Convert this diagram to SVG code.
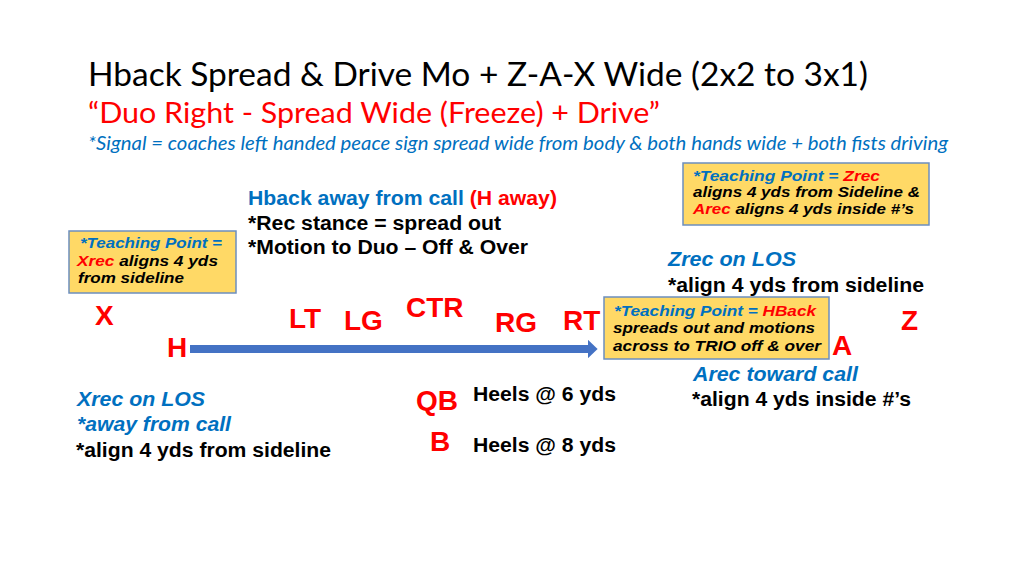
<svg xmlns="http://www.w3.org/2000/svg" width="1024" height="576" viewBox="0 0 1024 576">
<defs>
<marker id="ah" viewBox="0 0 5 10" refX="0" refY="5" markerWidth="1.2" markerHeight="2.3" markerUnits="strokeWidth" orient="auto" preserveAspectRatio="none">
<path d="M0,0 L5,5 L0,10 Z" fill="#4472C4"/>
</marker>
<style>
.t{font-family:Lato,"Open Sans",sans-serif}
.b{font-family:"Liberation Sans",Arial,sans-serif;font-weight:bold}
.bi{font-family:"Liberation Sans",Arial,sans-serif;font-weight:bold;font-style:italic}
.pos{font-family:"Liberation Sans",Arial,sans-serif;font-weight:bold;font-size:28px;fill:#FF0000}
.lbl{font-size:20px}
.box{fill:#FFD966;stroke:#6C8EBF;stroke-width:1.5}
.bt{font-size:14px}
.blue{fill:#0070C0}
.red{fill:#FF0000}
.blk{fill:#000000}
</style>
</defs>
<rect width="1024" height="576" fill="#ffffff"/>

<g id="title">
<text class="t" x="88" y="86" font-size="33" fill="#000" textLength="780" lengthAdjust="spacingAndGlyphs">Hback Spread &amp; Drive Mo + Z-A-X Wide (2x2 to 3x1)</text>
<text class="t" x="88" y="123" font-size="29" fill="#FF0000" textLength="572" lengthAdjust="spacingAndGlyphs">“Duo Right - Spread Wide (Freeze) + Drive”</text>
<text class="t" x="88" y="150" font-size="20" font-style="italic" fill="#0070C0" textLength="860" lengthAdjust="spacingAndGlyphs">*Signal = coaches left handed peace sign spread wide from body &amp; both hands wide + both fists driving</text>
</g>

<g id="tp-zrec">
<rect class="box" x="683" y="163" width="246" height="62"/>
<text class="bi bt" x="693" y="181" textLength="187" lengthAdjust="spacingAndGlyphs"><tspan class="blue">*Teaching Point = </tspan><tspan class="red">Zrec</tspan></text>
<text class="bi bt blk" x="693" y="197" textLength="227" lengthAdjust="spacingAndGlyphs">aligns 4 yds from Sideline &amp;</text>
<text class="bi bt" x="693" y="214" textLength="221" lengthAdjust="spacingAndGlyphs"><tspan class="red">Arec</tspan><tspan class="blk"> aligns 4 yds inside #’s</tspan></text>
</g>

<g id="tp-xrec">
<rect class="box" x="69" y="231" width="167" height="62"/>
<text class="bi bt blue" x="80" y="248" textLength="142" lengthAdjust="spacingAndGlyphs">*Teaching Point =</text>
<text class="bi bt" x="77" y="266" textLength="141" lengthAdjust="spacingAndGlyphs"><tspan class="red">Xrec</tspan><tspan class="blk"> aligns 4 yds</tspan></text>
<text class="bi bt blk" x="78" y="283" textLength="106" lengthAdjust="spacingAndGlyphs">from sideline</text>
</g>

<g id="tp-hback">
<rect class="box" x="604" y="297" width="225" height="62"/>
<text class="bi bt" x="614" y="316" textLength="202" lengthAdjust="spacingAndGlyphs"><tspan class="blue">*Teaching Point = </tspan><tspan class="red">HBack</tspan></text>
<text class="bi bt blk" x="613" y="333" textLength="202" lengthAdjust="spacingAndGlyphs">spreads out and motions</text>
<text class="bi bt blk" x="613" y="351" textLength="208" lengthAdjust="spacingAndGlyphs">across to TRIO off &amp; over</text>
</g>

<g id="hback-note">
<text class="b lbl" x="248" y="205" textLength="309" lengthAdjust="spacingAndGlyphs"><tspan class="blue">Hback away from call </tspan><tspan class="red">(H away)</tspan></text>
<text class="b lbl blk" x="248" y="230" textLength="253" lengthAdjust="spacingAndGlyphs">*Rec stance = spread out</text>
<text class="b lbl blk" x="248" y="254" textLength="280" lengthAdjust="spacingAndGlyphs">*Motion to Duo – Off &amp; Over</text>
</g>

<g id="zrec-note">
<text class="bi lbl blue" x="668" y="266" textLength="128" lengthAdjust="spacingAndGlyphs">Zrec on LOS</text>
<text class="b lbl blk" x="668" y="292" textLength="256" lengthAdjust="spacingAndGlyphs">*align 4 yds from sideline</text>
</g>

<g id="arec-note">
<text class="bi lbl blue" x="693" y="381" textLength="165" lengthAdjust="spacingAndGlyphs">Arec toward call</text>
<text class="b lbl blk" x="692" y="406" textLength="219" lengthAdjust="spacingAndGlyphs">*align 4 yds inside #’s</text>
</g>

<g id="xrec-note">
<text class="bi lbl blue" x="77" y="406" textLength="128" lengthAdjust="spacingAndGlyphs">Xrec on LOS</text>
<text class="bi lbl blue" x="77" y="431" textLength="154" lengthAdjust="spacingAndGlyphs">*away from call</text>
<text class="b lbl blk" x="76" y="457" textLength="255" lengthAdjust="spacingAndGlyphs">*align 4 yds from sideline</text>
</g>

<g id="qb-note">
<text class="b lbl blk" x="473" y="401" textLength="143" lengthAdjust="spacingAndGlyphs">Heels @ 6 yds</text>
</g>
<g id="b-note">
<text class="b lbl blk" x="473" y="452" textLength="143" lengthAdjust="spacingAndGlyphs">Heels @ 8 yds</text>
</g>

<g id="X"><text class="pos" x="95" y="325">X</text></g>
<g id="H"><text class="pos" x="167" y="357">H</text></g>
<g id="LT"><text class="pos" x="289" y="328">LT</text></g>
<g id="LG"><text class="pos" x="344" y="330">LG</text></g>
<g id="CTR"><text class="pos" x="406" y="317">CTR</text></g>
<g id="RG"><text class="pos" x="495" y="332">RG</text></g>
<g id="RT"><text class="pos" x="563" y="330">RT</text></g>
<g id="Z"><text class="pos" x="901" y="330">Z</text></g>
<g id="A"><text class="pos" x="832" y="355">A</text></g>
<g id="QB"><text class="pos" x="416" y="410">QB</text></g>
<g id="B"><text class="pos" x="430" y="451" font-size="25">B</text></g>

<g id="connectors">
<line x1="190" y1="349" x2="588" y2="349" stroke="#4472C4" stroke-width="8" marker-end="url(#ah)"/>
</g>
</svg>
